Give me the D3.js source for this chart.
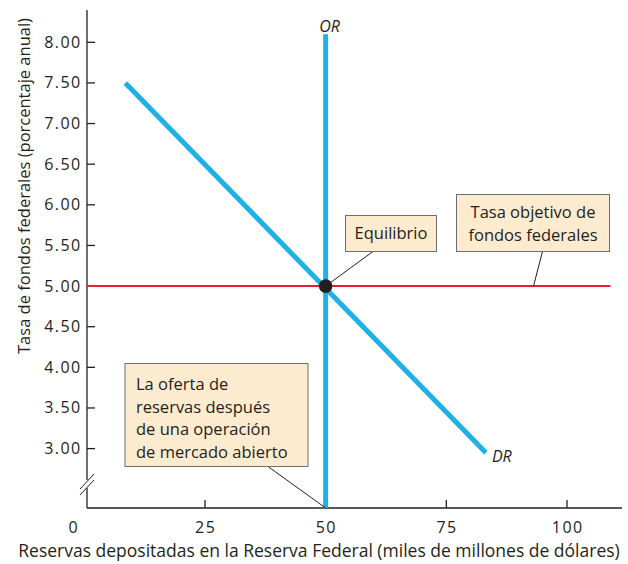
<!DOCTYPE html>
<html>
<head>
<meta charset="utf-8">
<script src="https://cdn.jsdelivr.net/npm/d3@7"></script>
<style>
  body { margin: 0; background: #fff; }
  text { font-family: "Open Sans", "Noto Sans", sans-serif; fill: #231f20; }
</style>
</head>
<body>
<svg id="chart" width="628" height="564"></svg>
<script>
// data
var xTicks = [25, 50, 75, 100];
var yTicks = [3.0, 3.5, 4.0, 4.5, 5.0, 5.5, 6.0, 6.5, 7.0, 7.5, 8.0];
var supplyX = 50;               // OR, vertical supply of reserves
var supplyTop = 8.1;
var demand = [[8.5, 7.5], [83.2, 2.95]];   // DR
var targetRate = 5.0;
var targetEnd = 109;
var equilibrium = [50, 5.0];

var svg = d3.select("#chart");
var textColor = "#231f20", blue = "#1eb0e6", red = "#e5202e";
var boxFill = "#fdebcf", boxStroke = "#6d6e71";

// setup scales (axis origin is broken, so the y domain floor sits under 3.00)
var x = d3.scaleLinear().domain([0, 100]).range([84.3, 567]);
var y = d3.scaleLinear().domain([3, 8]).range([448.6, 42.3]);
var axisX = 87, axisY = 508;

// x axis
svg.append("line")
    .attr("x1", axisX).attr("x2", 622).attr("y1", axisY).attr("y2", axisY)
    .attr("stroke", textColor).attr("stroke-width", 1.3);
svg.selectAll(".xtick").data(xTicks).enter().append("line")
    .attr("x1", x).attr("x2", x).attr("y1", axisY).attr("y2", axisY - 8)
    .attr("stroke", textColor).attr("stroke-width", 1.3);
svg.selectAll(".xlab").data([0].concat(xTicks)).enter().append("text")
    .attr("x", function(d) { return (d === 0 ? 73 : x(d)) + 0.7; })
    .attr("y", 533)
    .attr("text-anchor", "middle")
    .style("font-size", "16px").style("letter-spacing", "1.4px")
    .text(function(d) { return d; });
svg.append("text")
    .attr("x", 319).attr("y", 557)
    .attr("text-anchor", "middle")
    .style("font-size", "17.5px")
    .text("Reservas depositadas en la Reserva Federal (miles de millones de dólares)");

// y axis with break
svg.append("line")
    .attr("x1", axisX).attr("x2", axisX).attr("y1", 10).attr("y2", 480)
    .attr("stroke", textColor).attr("stroke-width", 1.3);
svg.append("line")
    .attr("x1", axisX).attr("x2", axisX).attr("y1", 488).attr("y2", axisY)
    .attr("stroke", textColor).attr("stroke-width", 1.3);
[0, 6].forEach(function(o) {
  svg.append("line")
      .attr("x1", 80).attr("y1", 489 + o).attr("x2", 94).attr("y2", 474 + o)
      .attr("stroke", textColor).attr("stroke-width", 1);
});
svg.selectAll(".ytick").data(yTicks).enter().append("line")
    .attr("x1", axisX).attr("x2", axisX + 8).attr("y1", y).attr("y2", y)
    .attr("stroke", textColor).attr("stroke-width", 1.3);
svg.selectAll(".ylab").data(yTicks).enter().append("text")
    .attr("x", 81.5).attr("y", function(d) { return y(d) + 5.5; })
    .attr("text-anchor", "end")
    .style("font-size", "16px").style("letter-spacing", "1.4px")
    .text(function(d) { return d.toFixed(2); });
svg.append("text")
    .attr("transform", "translate(29.5," + 186 + ") rotate(-90)")
    .attr("text-anchor", "middle")
    .style("font-size", "16.5px")
    .text("Tasa de fondos federales (porcentaje anual)");

// target federal funds rate
svg.append("line")
    .attr("x1", axisX).attr("x2", x(targetEnd))
    .attr("y1", y(targetRate)).attr("y2", y(targetRate))
    .attr("stroke", red).attr("stroke-width", 2);

// demand for reserves
svg.append("line")
    .attr("x1", x(demand[0][0])).attr("y1", y(demand[0][1]))
    .attr("x2", x(demand[1][0])).attr("y2", y(demand[1][1]))
    .attr("stroke", blue).attr("stroke-width", 5);
svg.append("text")
    .attr("x", x(demand[1][0]) + 6).attr("y", y(demand[1][1]) + 9)
    .style("font-size", "16px").style("font-style", "italic")
    .text("DR");

// supply of reserves
svg.append("line")
    .attr("x1", x(supplyX)).attr("x2", x(supplyX))
    .attr("y1", y(supplyTop)).attr("y2", axisY)
    .attr("stroke", blue).attr("stroke-width", 5);
svg.append("text")
    .attr("x", x(supplyX) + 4).attr("y", 32)
    .attr("text-anchor", "middle")
    .style("font-size", "16px").style("font-style", "italic")
    .text("OR");

// callouts
function callout(bx, by, bw, bh, lines, anchor, tx, ly, from, to) {
  svg.append("line")
      .attr("x1", from[0]).attr("y1", from[1]).attr("x2", to[0]).attr("y2", to[1])
      .attr("stroke", textColor).attr("stroke-width", 1);
  svg.append("rect")
      .attr("x", bx).attr("y", by).attr("width", bw).attr("height", bh)
      .attr("fill", boxFill).attr("stroke", boxStroke).attr("stroke-width", 1);
  lines.forEach(function(t, i) {
    svg.append("text")
        .attr("x", tx).attr("y", ly + i * 22.5)
        .attr("text-anchor", anchor)
        .style("font-size", "16.5px")
        .text(t);
  });
}
callout(345.5, 215.5, 91, 36, ["Equilibrio"], "middle", 391, 239,
        [373, 251.5], [x(equilibrium[0]), y(equilibrium[1])]);
callout(456.5, 194.5, 153, 57, ["Tasa objetivo de", "fondos federales"], "middle", 533, 218,
        [542.5, 251.5], [533.5, y(targetRate)]);
callout(125, 363.5, 183, 103, ["La oferta de", "reservas después", "de una operación", "de mercado abierto"],
        "start", 136, 390, [268, 466.5], [x(supplyX), axisY]);

// equilibrium point
svg.append("circle")
    .attr("cx", x(equilibrium[0])).attr("cy", y(equilibrium[1]))
    .attr("r", 6.8)
    .attr("fill", textColor);
</script>
</body>
</html>
